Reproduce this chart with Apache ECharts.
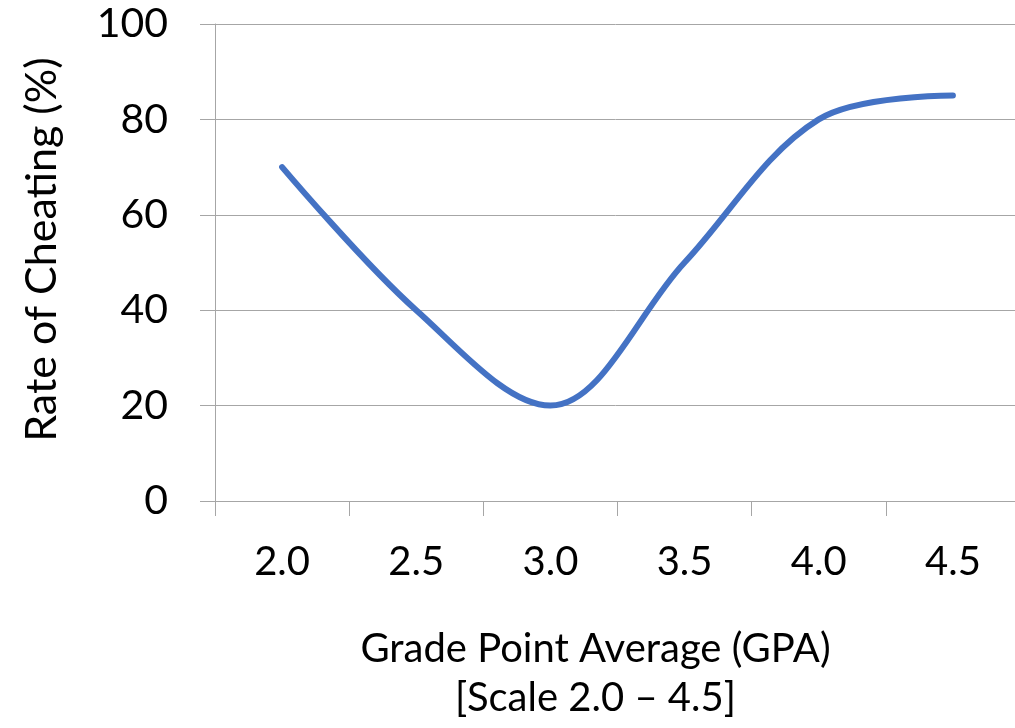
<!DOCTYPE html>
<html>
<head>
<meta charset="utf-8">
<script src="https://cdn.jsdelivr.net/npm/echarts@6/dist/echarts.min.js"></script>
<style>
html,body{margin:0;padding:0;background:#fff;}
#chart{width:1015px;height:728px;}
</style>
</head>
<body>
<div id="chart"></div>
<script>
const categories = ['2.0', '2.5', '3.0', '3.5', '4.0', '4.5'];
const cheatingRate = [70, 40, 20, 50, 80, 85];
const yTicks = [0, 20, 40, 60, 80, 100];

const FONT = 'Lato';
const chart = echarts.init(document.getElementById('chart'), null, {renderer: 'canvas'});
chart.setOption({
  animation: false,
  backgroundColor: '#ffffff',
  grid: {left: 215, top: 24, width: 805, height: 477, containLabel: false, outerBoundsMode: 'none'},
  xAxis: {
    type: 'category',
    data: categories,
    boundaryGap: true,
    name: 'Grade Point Average (GPA)\n[Scale 2.0 – 4.5]',
    nameLocation: 'middle',
    nameGap: 124,
    nameTextStyle: {fontFamily: FONT, fontSize: 40, color: '#000', lineHeight: 49, padding: [0, 44, 0, 0]},
    axisLine: {lineStyle: {color: '#a6a6a6', width: 1}},
    axisTick: {show: true, length: 15, alignWithLabel: false, lineStyle: {color: '#a6a6a6'}},
    axisLabel: {fontFamily: FONT, fontSize: 40, color: '#000', margin: 41},
    splitLine: {show: false}
  },
  yAxis: {
    type: 'value',
    min: yTicks[0],
    max: yTicks[yTicks.length - 1],
    interval: 20,
    name: 'Rate of Cheating (%)',
    nameLocation: 'middle',
    nameGap: 151,
    nameRotate: 90,
    nameTextStyle: {fontFamily: FONT, fontSize: 43, color: '#000', padding: [0, 0, 0, 26]},
    axisLine: {show: true, lineStyle: {color: '#a6a6a6', width: 1}},
    axisTick: {show: true, length: 15, lineStyle: {color: '#a6a6a6'}},
    axisLabel: {fontFamily: FONT, fontSize: 41, color: '#000', margin: 47},
    splitLine: {show: true, lineStyle: {color: '#a6a6a6', width: 1}}
  },
  series: [{
    type: 'line',
    data: cheatingRate,
    smooth: 0.35,
    showSymbol: false,
    lineStyle: {color: '#4472c4', width: 6, cap: 'round', join: 'round'}
  }]
});
</script>
</body>
</html>
